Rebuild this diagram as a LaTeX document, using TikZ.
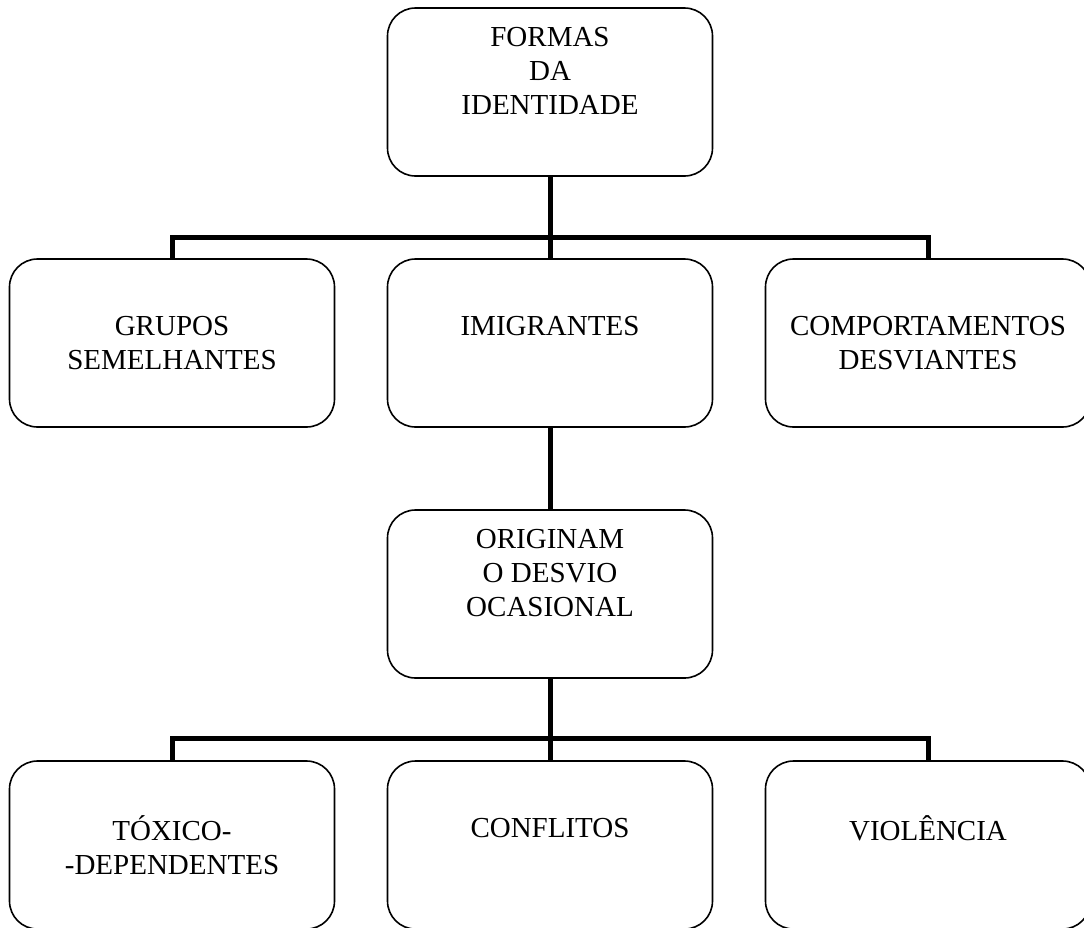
\documentclass[tikz,border=0pt]{standalone}
\usepackage{fontspec}
\setmainfont{Liberation Serif}
\usepackage{tikz}
\usetikzlibrary{positioning, calc}
\tikzset{
    orgchart/.style={font=\fontsize{29pt}{34pt}\selectfont, node distance=83pt and 53pt},
    box/.style={draw, line width=1.6pt, rounded corners=28pt, minimum width=325pt, minimum height=168pt, align=center, outer sep=0pt, inner sep=4pt},
    link/.style={line width=5pt},
    bus/.style={coordinate},
}

\begin{document}
\begin{tikzpicture}[orgchart]
        \useasboundingbox (0,0) rectangle (1084pt,-927pt);

        \node[box] at (550pt,-92pt)        (forms)  {FORMAS\\DA\\IDENTIDADE\\[9pt]~};
        \node[box, below=of forms]          (imig)   {IMIGRANTES\\~};
        \node[box, left=of imig]            (grupos) {GRUPOS\\SEMELHANTES};
        \node[box, right=of imig]           (comp)   {COMPORTAMENTOS\\DESVIANTES};
        \node[box, below=of imig]           (orig)   {ORIGINAM\\O DESVIO\\OCASIONAL\\[9pt]~};
        \node[box, below=of orig]           (conf)   {CONFLITOS\\~};
        \node[box, left=of conf]            (toxic)  {TÓXICO-\\-DEPENDENTES};
        \node[box, right=of conf]           (viol)   {VIOLÊNCIA\\~};
        \coordinate[above=22pt of imig.north] (bus1);
        \coordinate[above=23pt of conf.north] (bus2);

        % first level
        \draw[link] (forms) -- (imig);
        \draw[link] (grupos.north) |- (bus1) -| (comp.north);

        % second level
        \draw[link] (imig) -- (orig);
        \draw[link] (orig) -- (conf);
        \draw[link] (toxic.north) |- (bus2) -| (viol.north);
\end{tikzpicture}
\end{document}
